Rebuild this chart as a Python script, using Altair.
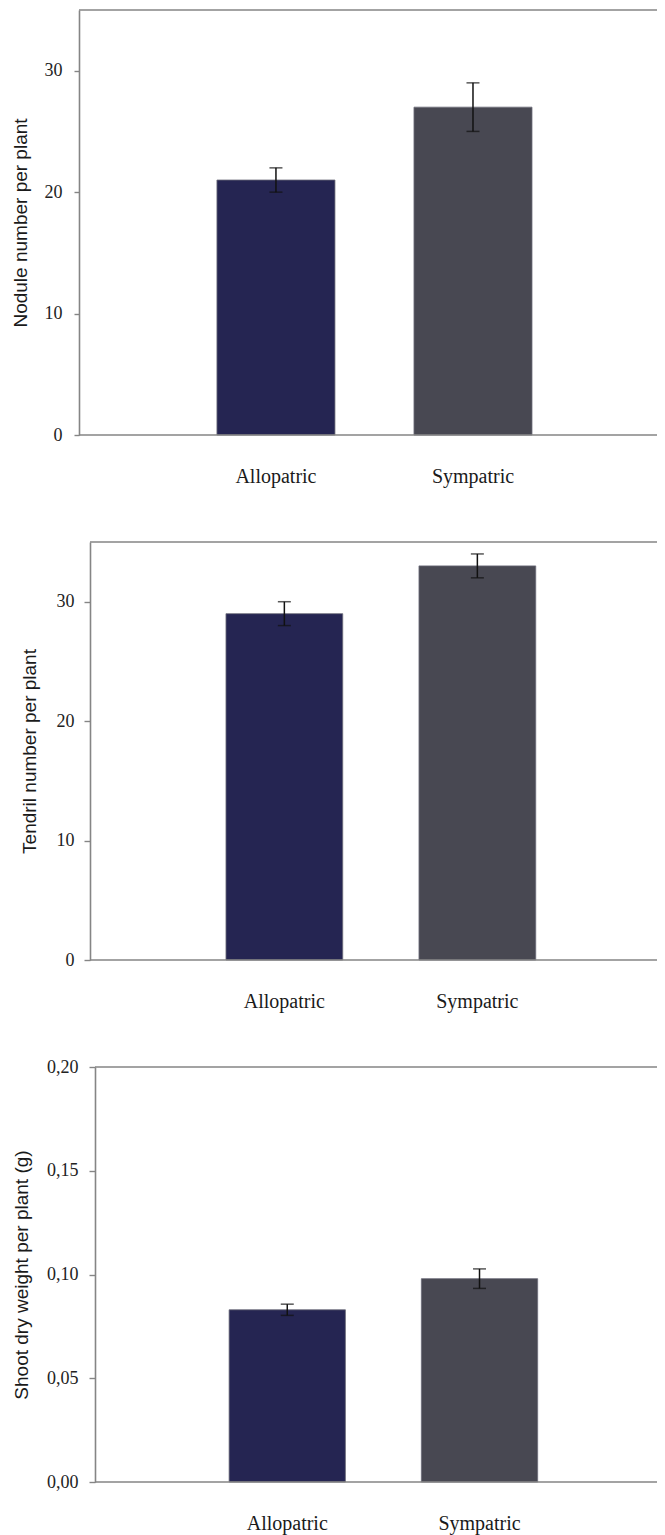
import altair as alt
import pandas as pd

groups = ["Allopatric", "Sympatric"]
colors = ["#252552", "#484852"]

nodule_mean = [21, 27]
nodule_se = [1, 2]
tendril_mean = [29, 33]
tendril_se = [1, 1]
shoot_mean = [0.083, 0.098]
shoot_se = [0.0027, 0.0047]

W = 585
SERIF = "Liberation Serif"
SANS = "Liberation Sans"
AXIS_COLOR = "#858585"


def panel(mean, se, title, domain, ticks, height, yoffset, tick_size, label_pad, title_x,
          pad_inner, pad_outer, align, fmt=None):
    df = pd.DataFrame({
        "group": groups,
        "mean": mean,
        "lo": [m - s for m, s in zip(mean, se)],
        "hi": [m + s for m, s in zip(mean, se)],
        "color": colors,
    })
    xscale = alt.Scale(domain=groups, paddingInner=pad_inner, paddingOuter=pad_outer, align=align)
    xaxis = alt.Axis(title=None, domain=False, ticks=False, tickSize=0, labelPadding=47,
                     labelBaseline="alphabetic", labelFont=SERIF, labelFontSize=20,
                     labelColor="#1a1a1a", labelAngle=0, grid=False)
    yaxis_kw = dict(
        title=title, values=ticks, grid=False, offset=yoffset,
        domainColor=AXIS_COLOR, domainWidth=1.6, tickColor=AXIS_COLOR, tickWidth=1.4,
        tickSize=tick_size, labelPadding=label_pad, labelFont=SERIF, labelFontSize=18,
        labelColor="#222222", titleFont=SANS, titleFontSize=19, titleFontWeight="normal",
        titleColor="#1a1a1a", titleBaseline="middle", titleX=title_x,
    )
    if fmt is not None:
        yaxis_kw["labelExpr"] = fmt
    yaxis = alt.Axis(**yaxis_kw)
    base = alt.Chart(df)
    bars = base.mark_bar(stroke="#6c6c78", strokeWidth=0.8).encode(
        x=alt.X("group:N", scale=xscale, axis=xaxis, sort=groups),
        y=alt.Y("mean:Q", scale=alt.Scale(domain=domain, nice=False, zero=True), axis=yaxis),
        color=alt.Color("color:N", scale=None),
    )
    err = base.mark_rule(color="#111111", strokeWidth=1.5).encode(
        x=alt.X("group:N", sort=groups), y="lo:Q", y2="hi:Q")
    cap_hi = base.mark_tick(color="#111111", thickness=1.5, size=13).encode(
        x=alt.X("group:N", sort=groups), y="hi:Q")
    cap_lo = base.mark_tick(color="#111111", thickness=1.5, size=13).encode(
        x=alt.X("group:N", sort=groups), y="lo:Q")
    one = alt.Chart(pd.DataFrame({"k": [0]}))
    top = one.mark_rule(color=AXIS_COLOR, strokeWidth=1.6).encode(
        x=alt.value(-yoffset), x2=alt.value(W), y=alt.value(0))
    bottom = one.mark_rule(color=AXIS_COLOR, strokeWidth=1.6).encode(
        x=alt.value(-yoffset), x2=alt.value(W), y=alt.value(height))
    return alt.layer(bars, err, cap_hi, cap_lo, top, bottom).properties(width=W, height=height)


p1 = panel(nodule_mean, nodule_se, "Nodule number per plant", [0, 35], [0, 10, 20, 30],
           425, 0, 5, 12, -59, 0.401, 0.685, 0.511)
p2 = panel(tendril_mean, tendril_se, "Tendril number per plant", [0, 35], [0, 10, 20, 30],
           418, -11, 6, 10, -61, 0.395, 0.713, 0.534)
p3 = panel(shoot_mean, shoot_se, "Shoot dry weight per plant (g)", [0, 0.2],
           [0, 0.05, 0.10, 0.15, 0.20], 415, -16, 6, 11, -74, 0.395, 0.719, 0.543,
           fmt="replace(format(datum.value, '.2f'), '.', ',')")

chart = alt.vconcat(p1, p2, p3, spacing=107, bounds="flush").properties(
    padding={"left": 2, "top": 0, "right": -9, "bottom": 5}
).configure_view(stroke="transparent").resolve_scale(y="independent", x="independent")

chart.save("out.html", embed_options={"renderer": "svg", "actions": False})
